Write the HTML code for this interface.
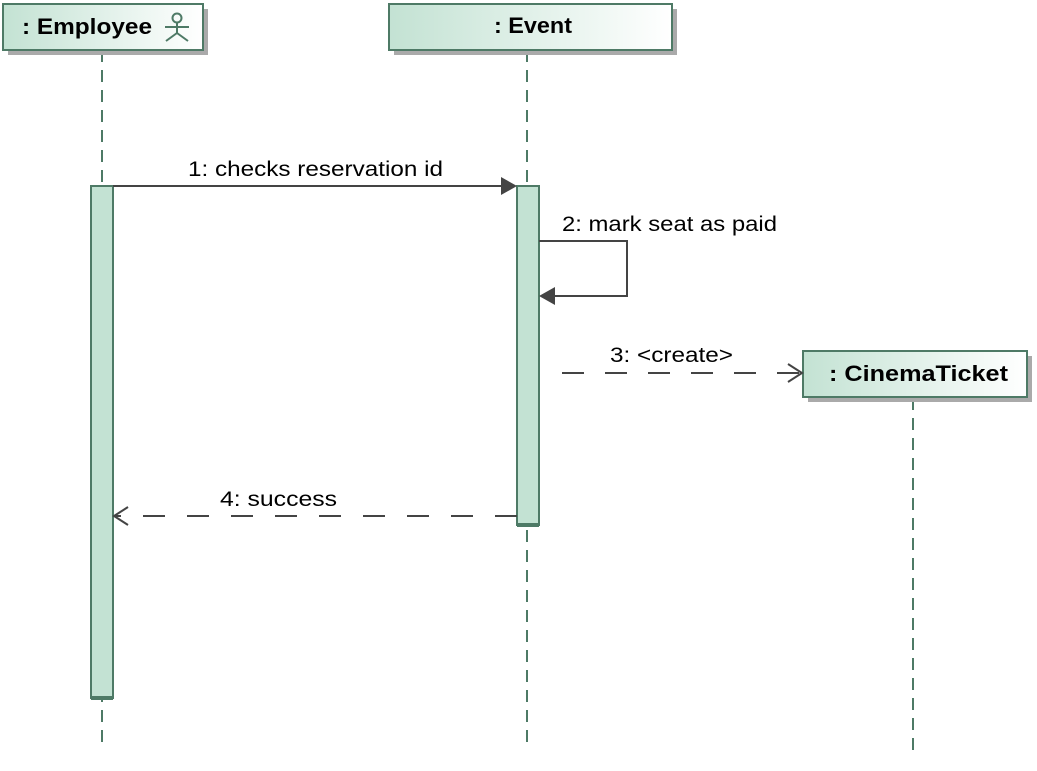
<!DOCTYPE html>
<html><head><meta charset="utf-8"><style>
html,body{margin:0;padding:0;background:#fff;width:1037px;height:771px;overflow:hidden}
text{font-family:"Liberation Sans",Arial,sans-serif}
</style></head><body>
<svg width="1037" height="771" viewBox="0 0 1037 771" xmlns="http://www.w3.org/2000/svg">
<defs>
<linearGradient id="g" x1="0" y1="0" x2="1" y2="0">
<stop offset="0" stop-color="#c3e2d3"/><stop offset="1" stop-color="#ffffff"/>
</linearGradient>
</defs>
<g stroke="#4e7a66" stroke-width="2" stroke-dasharray="12,8" fill="none">
<line x1="102" y1="50" x2="102" y2="745"/>
<line x1="527" y1="50" x2="527" y2="745"/>
<line x1="913" y1="398" x2="913" y2="752"/>
</g>
<rect x="8" y="9" width="200" height="46" fill="#aaa"/>
<rect x="394" y="9" width="283" height="46" fill="#aaa"/>
<rect x="808" y="356" width="224" height="46" fill="#aaa"/>
<rect x="3" y="4" width="200" height="46" fill="url(#g)" stroke="#4e7a66" stroke-width="2"/>
<rect x="389" y="4" width="283" height="46" fill="url(#g)" stroke="#4e7a66" stroke-width="2"/>
<rect x="803" y="351" width="224" height="46" fill="url(#g)" stroke="#4e7a66" stroke-width="2"/>
<text x="22" y="34" font-size="22" font-weight="bold" fill="#000" textLength="130" lengthAdjust="spacingAndGlyphs">: Employee</text>
<text x="494" y="33" font-size="22" font-weight="bold" fill="#000" textLength="78" lengthAdjust="spacingAndGlyphs">: Event</text>
<text x="829" y="381" font-size="22" font-weight="bold" fill="#000" textLength="179" lengthAdjust="spacingAndGlyphs">: CinemaTicket</text>
<g stroke="#4e7a66" stroke-width="2" fill="none">
<circle cx="177" cy="18" r="4.5"/>
<line x1="177" y1="22.5" x2="177" y2="33"/>
<line x1="165" y1="27" x2="189" y2="27"/>
<line x1="177" y1="33" x2="166" y2="41"/>
<line x1="177" y1="33" x2="188" y2="41"/>
</g>
<rect x="91" y="186" width="22" height="512" fill="#c3e2d3" stroke="#4e7a66" stroke-width="2"/>
<line x1="91" y1="698" x2="113" y2="698" stroke="#4e7a66" stroke-width="4"/>
<rect x="517" y="186" width="22" height="339" fill="#c3e2d3" stroke="#4e7a66" stroke-width="2"/>
<line x1="517" y1="525" x2="539" y2="525" stroke="#4e7a66" stroke-width="4"/>
<line x1="113" y1="186" x2="505" y2="186" stroke="#444" stroke-width="2"/>
<polygon points="517,186 501,177 501,195" fill="#444"/>
<text x="188" y="176" font-size="21" fill="#000" textLength="255" lengthAdjust="spacingAndGlyphs">1: checks reservation id</text>
<polyline points="539,241 627,241 627,296 551,296" fill="none" stroke="#444" stroke-width="2"/>
<polygon points="539,296 555,287 555,305" fill="#444"/>
<text x="562" y="231" font-size="21" fill="#000" textLength="215" lengthAdjust="spacingAndGlyphs">2: mark seat as paid</text>
<line x1="562" y1="373" x2="802" y2="373" stroke="#444" stroke-width="2" stroke-dasharray="22,21"/>
<polyline points="788,364 802,373 788,382" fill="none" stroke="#444" stroke-width="2"/>
<text x="610" y="362" font-size="21" fill="#000" textLength="123" lengthAdjust="spacingAndGlyphs">3:  &lt;create&gt;</text>
<line x1="517" y1="516" x2="115" y2="516" stroke="#444" stroke-width="2" stroke-dasharray="22,22"/>
<polyline points="128,507 114,516 128,525" fill="none" stroke="#444" stroke-width="2"/>
<text x="220" y="506" font-size="21" fill="#000" textLength="117" lengthAdjust="spacingAndGlyphs">4: success</text>
</svg>
</body></html>
